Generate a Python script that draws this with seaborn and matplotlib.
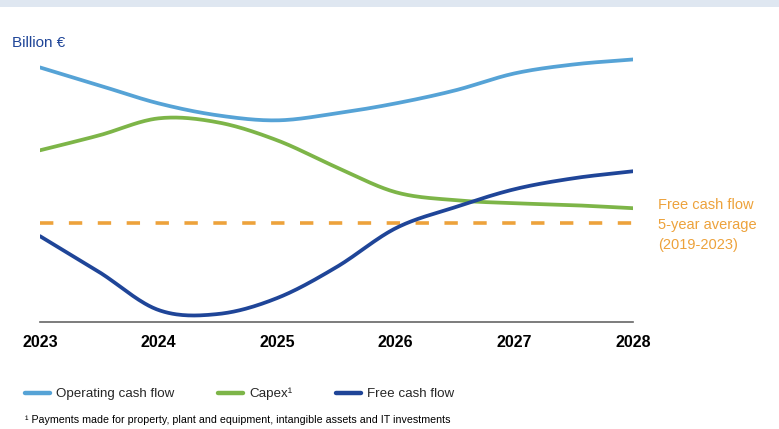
import numpy as np
import pandas as pd
import matplotlib
matplotlib.use("Agg")
import matplotlib.pyplot as plt
import seaborn as sns

# ---- data (billion €, arbitrary scale) ----
years = [2023, 2023.5, 2024, 2024.5, 2025, 2025.5, 2026, 2026.5, 2027, 2027.5, 2028]
operating_cf = [10.2, 9.48, 8.76, 8.28, 8.08, 8.36, 8.76, 9.28, 9.96, 10.32, 10.52]
capex = [6.88, 7.48, 8.16, 8.0, 7.28, 6.2, 5.2, 4.88, 4.76, 4.68, 4.56]
free_cf = [3.44, 2.0, 0.48, 0.32, 0.96, 2.2, 3.76, 4.6, 5.32, 5.76, 6.04]
fcf_avg = 3.96
tick_years = [2023, 2024, 2025, 2026, 2027, 2028]
series_names = ["Operating cash flow", "Capex\u00b9", "Free cash flow"]
avg_label = "Free cash flow\n5-year average\n(2019-2023)"
footnote = "\u00b9 Payments made for property, plant and equipment, intangible assets and IT investments"
unit_label = "Billion \u20ac"

colors = {"Operating cash flow": "#56a3d6", "Capex\u00b9": "#7db548", "Free cash flow": "#1f4598"}
avg_color = "#eda23b"


def smooth(x, y, n=30):
    """Cubic Hermite (Catmull-Rom) curve through the read points, for drawing only."""
    x = np.asarray(x, float); y = np.asarray(y, float)
    m = np.empty_like(y)
    m[1:-1] = (y[2:] - y[:-2]) / 2.0
    m[0] = y[1] - y[0]
    m[-1] = y[-1] - y[-2]
    xs, ys = [], []
    for i in range(len(x) - 1):
        t = np.linspace(0, 1, n, endpoint=(i == len(x) - 2))
        h00 = 2 * t**3 - 3 * t**2 + 1
        h10 = t**3 - 2 * t**2 + t
        h01 = -2 * t**3 + 3 * t**2
        h11 = t**3 - t**2
        xs.append(x[i] + t * (x[i + 1] - x[i]))
        ys.append(h00 * y[i] + h10 * m[i] + h01 * y[i + 1] + h11 * m[i + 1])
    return np.concatenate(xs), np.concatenate(ys)


frames = []
for name, vals in zip(series_names, [operating_cf, capex, free_cf]):
    sx, sy = smooth(years, vals)
    frames.append(pd.DataFrame({"year": sx, "value": sy, "series": name}))
df = pd.concat(frames, ignore_index=True)

sns.set_style("white")
plt.rcParams["font.family"] = ["Liberation Sans", "DejaVu Sans"]

fig = plt.figure(figsize=(7.79, 4.29), dpi=100)
ax = fig.add_axes([0.0513, 0.2494, 0.7613, 0.6574])

# top band
fig.patches.append(plt.Rectangle((0, 1 - 7 / 429), 1, 7 / 429, transform=fig.transFigure,
                                 facecolor="#dfe7f1", edgecolor="none", zorder=0))

ax.axhline(fcf_avg, xmin=0, xmax=1, color=avg_color, lw=2.6, dashes=(3.7, 4.3), zorder=1)

sns.lineplot(data=df, x="year", y="value", hue="series", palette=colors,
             hue_order=series_names, linewidth=2.7, ax=ax, legend=False,
             sort=False, estimator=None, zorder=3)

ax.set_xlim(2023, 2028)
ax.set_ylim(0, 11.3)
ax.set_xticks(tick_years)
ax.set_xticklabels([str(t) for t in tick_years], fontsize=11.5, fontweight="bold", color="black")
ax.set_yticks([])
ax.set_xlabel("")
ax.set_ylabel("")
for s in ["top", "right", "left"]:
    ax.spines[s].set_visible(False)
ax.spines["bottom"].set_color("#666666")
ax.spines["bottom"].set_linewidth(1.2)
ax.tick_params(axis="x", direction="out", length=4, width=1, color="#666666", pad=5)

fig.text(12 / 779, 1 - 43 / 429, unit_label, fontsize=11, color="#1f4598", va="center", ha="left")
fig.text(658 / 779, 1 - 225 / 429, avg_label, fontsize=10.5, color=avg_color, va="center",
         ha="left", linespacing=1.55)

handles = [plt.Line2D([], [], color=colors[n], lw=3.2) for n in series_names]
fig.legend(handles, series_names, loc="center left", bbox_to_anchor=(25 / 779, 1 - 394 / 429),
           ncol=3, frameon=False, fontsize=9.6, handlelength=1.9, handletextpad=0.45,
           columnspacing=3.25, borderaxespad=0, borderpad=0)

fig.text(25 / 779, 1 - 420 / 429, footnote, fontsize=7.7, color="black", va="center", ha="left")

fig.savefig("out.png", dpi=100, facecolor="white")
